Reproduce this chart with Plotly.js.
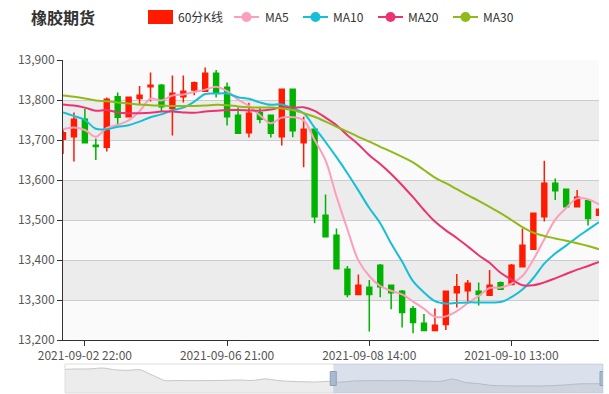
<!DOCTYPE html>
<html>
<head>
<meta charset="utf-8">
<script src="https://cdn.plot.ly/plotly-3.0.1.min.js"></script>
<style>html,body{margin:0;padding:0;background:#fff;}#chart{width:609px;height:394px;}</style>
</head>
<body>
<div id="chart"></div>
<script>
const times = [
 '2021-09-02 14:00','2021-09-02 21:00','2021-09-02 22:00','2021-09-03 09:00','2021-09-03 10:00',
 '2021-09-03 11:00','2021-09-03 13:00','2021-09-03 14:00','2021-09-03 21:00','2021-09-03 22:00',
 '2021-09-06 09:00','2021-09-06 10:00','2021-09-06 11:00','2021-09-06 13:00','2021-09-06 14:00',
 '2021-09-06 21:00','2021-09-06 22:00','2021-09-07 09:00','2021-09-07 10:00','2021-09-07 11:00',
 '2021-09-07 13:00','2021-09-07 14:00','2021-09-07 21:00','2021-09-07 22:00','2021-09-08 09:00',
 '2021-09-08 10:00','2021-09-08 11:00','2021-09-08 13:00','2021-09-08 14:00','2021-09-08 21:00',
 '2021-09-08 22:00','2021-09-09 09:00','2021-09-09 10:00','2021-09-09 11:00','2021-09-09 13:00',
 '2021-09-09 14:00','2021-09-09 21:00','2021-09-09 22:00','2021-09-10 09:00','2021-09-10 10:00',
 '2021-09-10 11:00','2021-09-10 13:00','2021-09-10 14:00','2021-09-10 21:00','2021-09-10 22:00',
 '2021-09-13 09:00','2021-09-13 10:00','2021-09-13 11:00','2021-09-13 13:00','2021-09-13 14:00'
];
const openP = [13702,13708,13752,13687,13682,13808,13758,13804,13833,13837,
 13779,13808,13825,13822,13867,13832,13762,13718,13768,13762,
 13708,13827,13693,13727,13512,13462,13377,13314,13332,13387,
 13337,13322,13278,13242,13224,13239,13318,13323,13322,13312,
 13343,13339,13383,13427,13508,13592,13577,13533,13548,13512];
const highP = [13727,13769,13779,13704,13806,13819,13807,13835,13869,13840,
 13861,13861,13846,13881,13875,13844,13781,13793,13781,13764,
 13829,13829,13758,13727,13564,13479,13385,13364,13350,13390,
 13337,13325,13285,13265,13279,13322,13365,13350,13344,13375,
 13346,13390,13479,13517,13648,13604,13579,13575,13550,13529];
const lowP = [13665,13646,13692,13650,13671,13736,13758,13787,13796,13772,
 13711,13794,13812,13821,13806,13736,13715,13706,13742,13706,
 13686,13707,13632,13492,13458,13377,13307,13314,13221,13307,
 13277,13231,13217,13224,13224,13225,13281,13296,13286,13312,
 13327,13339,13383,13427,13496,13550,13533,13531,13486,13512];
const closeP = [13718,13752,13693,13684,13802,13757,13807,13812,13837,13783,
 13817,13822,13843,13867,13818,13758,13717,13767,13752,13717,
 13827,13723,13727,13508,13458,13378,13314,13337,13314,13333,
 13318,13269,13244,13224,13237,13322,13333,13342,13314,13337,
 13327,13387,13437,13517,13592,13573,13533,13557,13504,13527];
const ma5 = [13727,13731,13725,13708,13730,13738,13749,13772,13803,13799,
 13811,13814,13820,13826,13833,13822,13801,13785,13762,13742,
 13756,13757,13749,13700,13649,13559,13477,13399,13360,13335,
 13323,13314,13296,13278,13258,13259,13272,13292,13310,13330,
 13331,13341,13360,13401,13452,13501,13530,13554,13552,13539];
const ma10 = [13769,13760,13750,13728,13727,13733,13737,13746,13757,13764,
 13774,13781,13796,13815,13816,13816,13807,13803,13794,13788,
 13789,13779,13767,13731,13695,13657,13617,13574,13530,13492,
 13441,13396,13347,13319,13297,13291,13293,13294,13294,13294,
 13295,13307,13326,13355,13391,13416,13436,13457,13476,13495];
const ma20 = [13789,13786,13781,13773,13775,13769,13767,13767,13768,13771,
 13771,13769,13768,13771,13773,13775,13775,13774,13773,13776,
 13782,13780,13782,13773,13756,13737,13712,13689,13662,13640,
 13615,13587,13557,13525,13496,13474,13455,13434,13412,13393,
 13368,13351,13337,13337,13344,13354,13365,13376,13385,13395];
const ma30 = [13811,13808,13804,13799,13797,13794,13791,13789,13787,13786,
 13785,13785,13785,13786,13788,13787,13784,13782,13781,13781,
 13779,13775,13767,13758,13746,13733,13721,13708,13696,13683,
 13671,13658,13644,13625,13606,13592,13577,13562,13548,13533,
 13517,13500,13482,13468,13460,13454,13448,13442,13435,13427];
const tickIdx = [2, 15, 28, 41];
const yTicks = [13200,13300,13400,13500,13600,13700,13800,13900];
const sliderVals = [13805,13812,13815,13840,13790,13775,13793,13640,13492,13495,
 13490,13492,13495,13500,13508,13495,13540,13495,13470,13460,
 13453,13470,13450,13480,13489,13492,13488,13495,13485,13475,
 13470,13536,13440,13410,13362,13350,13343,13345,13343,13355,
 13372,13400,13406,13404];
const sliderWindow = [21.44, 43];

const seriesNames = ['60分K线','MA5','MA10','MA20','MA30'];
const upColor = '#ff1a00', downColor = '#00b300';
const maColors = ['#fc9fba','#15bfd6','#ec3270','#8fba18'];
const FONT = '"Noto Sans CJK SC", "Noto Sans", sans-serif';

// geometry helpers (pixel -> paper) for legend decorations
const ML = 63, MR = 5, MT = 60, MB = 1, W = 609, H = 394;
const PW = W - ML - MR, PH = H - MT - MB;
const fx = p => (p - ML) / PW;
const fy = p => (H - MB - p) / PH;
const mainEnd = fx(599);

const traces = [];
traces.push({
  type: 'candlestick', x: times, open: openP, high: highP, low: lowP, close: closeP,
  xaxis: 'x', yaxis: 'y', name: seriesNames[0], showlegend: false, hoverinfo: 'skip',
  whiskerwidth: 0,
  increasing: {line: {color: upColor, width: 1.5}, fillcolor: upColor},
  decreasing: {line: {color: downColor, width: 1.5}, fillcolor: downColor}
});
[ma5, ma10, ma20, ma30].forEach((arr, i) => {
  traces.push({
    type: 'scatter', mode: 'lines', x: times, y: arr, name: seriesNames[i+1],
    xaxis: 'x', yaxis: 'y', showlegend: false, hoverinfo: 'skip',
    line: {color: maColors[i], width: 2, shape: 'spline', smoothing: 1}
  });
});
traces.push({
  type: 'scatter', mode: 'lines', y: sliderVals, xaxis: 'x2', yaxis: 'y2',
  showlegend: false, hoverinfo: 'skip', fill: 'tozeroy', fillcolor: '#ececec',
  line: {color: '#c6c6c6', width: 1, shape: 'spline', smoothing: 0.6}
});

const shapes = [];
for (let i = 0; i < yTicks.length - 1; i++) {
  shapes.push({type: 'rect', xref: 'paper', yref: 'y', x0: 0, x1: mainEnd,
    y0: yTicks[i], y1: yTicks[i+1], layer: 'below', line: {width: 0},
    fillcolor: (i % 2 === 1) ? '#ececec' : '#fafafa'});
}
// slider frame and selection
shapes.push({type: 'rect', xref: 'x2 domain', yref: 'y2 domain', x0: 0, x1: 1, y0: 0, y1: 1,
  line: {color: '#dddddd', width: 1}, fillcolor: 'rgba(0,0,0,0)'});
shapes.push({type: 'rect', xref: 'x2', yref: 'y2 domain', x0: sliderWindow[0], x1: sliderWindow[1],
  y0: 0, y1: 1, line: {width: 0}, fillcolor: 'rgba(150,170,200,0.35)'});
sliderWindow.forEach(v => {
  shapes.push({type: 'rect', xref: 'x2', yref: 'y2 domain', xsizemode: 'pixel', xanchor: v,
    x0: -3, x1: 3, ysizemode: 'pixel', yanchor: 0.5, y0: -7, y1: 7,
    fillcolor: '#a9b9d0', line: {color: '#8ea0bb', width: 1}});
});
// legend decorations
shapes.push({type: 'rect', xref: 'paper', yref: 'paper', x0: fx(148), x1: fx(173), y0: fy(24), y1: fy(10),
  fillcolor: upColor, line: {width: 0}});
const legendLineStart = [234, 303, 378, 453];
legendLineStart.forEach((s, i) => {
  shapes.push({type: 'line', xref: 'paper', yref: 'paper', x0: fx(s), x1: fx(s + 25), y0: fy(17), y1: fy(17),
    line: {color: maColors[i], width: 2}});
  shapes.push({type: 'circle', xref: 'paper', yref: 'paper', xsizemode: 'pixel', ysizemode: 'pixel',
    xanchor: fx(s + 12.5), yanchor: fy(17), x0: -5, x1: 5, y0: -5, y1: 5,
    fillcolor: maColors[i], line: {width: 0}});
});
const legendTextX = [176, 263, 331, 406, 481];
const annotations = legendTextX.map((p, i) => ({
  xref: 'paper', yref: 'paper', x: fx(p), y: fy(17), xanchor: 'left', yanchor: 'middle',
  text: seriesNames[i], showarrow: false, font: {family: FONT, size: 12, color: '#333'}
}));

const layout = {
  width: W, height: H,
  margin: {l: ML, r: MR, t: MT, b: MB},
  paper_bgcolor: '#ffffff', plot_bgcolor: 'rgba(0,0,0,0)',
  showlegend: false,
  boxgap: 0.36,
  font: {family: FONT, size: 12, color: '#555'},
  title: {text: '<b>橡胶期货</b>', x: 31 / W, xref: 'container', xanchor: 'left',
    y: 1 - 18 / H, yref: 'container', yanchor: 'middle',
    font: {family: FONT, size: 16, color: '#333'}},
  xaxis: {
    type: 'category', domain: [0, mainEnd], anchor: 'y', range: [0, times.length - 1],
    rangeslider: {visible: false}, showgrid: false, zeroline: false,
    showline: true, linecolor: '#333', linewidth: 1,
    ticks: 'outside', ticklen: 5, tickcolor: '#333',
    tickvals: tickIdx.map(i => times[i]), ticktext: tickIdx.map(i => times[i]),
    tickfont: {family: FONT, size: 12, color: '#555'}, fixedrange: true
  },
  yaxis: {
    domain: [fy(340), 1], anchor: 'x', range: [yTicks[0], yTicks[yTicks.length - 1]],
    tickvals: yTicks, tickformat: ',d', showgrid: true, gridcolor: '#cccccc', gridwidth: 1,
    zeroline: false, showline: true, linecolor: '#333', linewidth: 1,
    ticks: 'outside', ticklen: 5, tickcolor: '#333',
    tickfont: {family: FONT, size: 12, color: '#555'}, fixedrange: true
  },
  xaxis2: {domain: [fx(65), fx(603)], anchor: 'y2', range: [0, sliderVals.length - 1], visible: false, fixedrange: true},
  yaxis2: {domain: [fy(393), fy(364)], anchor: 'x2', range: [13150, 13950], visible: false, fixedrange: true},
  shapes: shapes,
  annotations: annotations
};

Plotly.newPlot('chart', traces, layout, {displayModeBar: false, staticPlot: true});
</script>
</body>
</html>
